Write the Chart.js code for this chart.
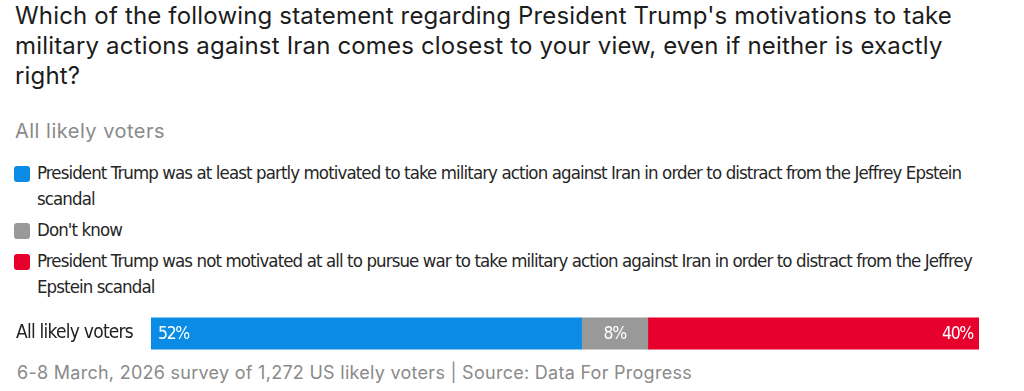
<!DOCTYPE html>
<html>
<head>
<meta charset="utf-8">
<script src="https://cdn.jsdelivr.net/npm/chart.js@4"></script>
<style>
  html, body { margin: 0; padding: 0; background: #fff; }
  body { width: 1024px; height: 391px; position: relative; overflow: hidden; }
  #title { position: absolute; left: 15px; top: 1px; width: 1000px; font-family: Inter, Roboto, sans-serif; font-size: 24px; line-height: 30px; color: #1c1c1c; font-weight: 400; white-space: nowrap; }
  #subtitle { position: absolute; left: 15px; top: 119px; font-family: Inter, Roboto, sans-serif; font-size: 20px; line-height: normal; color: #8a8a8a; white-space: nowrap; }
  #legend { position: absolute; left: 14px; top: 160px; width: 1000px; font-family: "Liberation Sans Narrow", "DejaVu Sans Condensed", sans-serif; font-size: 18.5px; color: #262626; }
  .item { position: relative; padding-left: 23px; line-height: 26px; margin-bottom: 5px; }
  .sw { position: absolute; left: 0; top: 6px; width: 16px; height: 16px; border-radius: 3px; }
  #wrap { position: absolute; left: 0; top: 306px; width: 1024px; height: 55px; }
  #footer { position: absolute; left: 17px; top: 362px; font-family: Inter, Roboto, sans-serif; font-size: 18px; line-height: normal; color: #8a8a8a; white-space: nowrap; }
</style>
</head>
<body>
<div id="title"></div>
<div id="subtitle"></div>
<div id="legend"></div>
<div id="wrap"><canvas id="c"></canvas></div>
<div id="footer"></div>
<script>
const titleLines = [
  "Which of the following statement regarding President Trump's motivations to take",
  "military actions against Iran comes closest to your view, even if neither is exactly",
  "right?"
];
const subtitleText = "All likely voters";
const footerText = "6-8 March, 2026 survey of 1,272 US likely voters | Source: Data For Progress";
const categories = ["All likely voters"];
const seriesNames = [
  "President Trump was at least partly motivated to take military action against Iran in order to distract from the Jeffrey Epstein scandal",
  "Don't know",
  "President Trump was not motivated at all to pursue war to take military action against Iran in order to distract from the Jeffrey Epstein scandal"
];
const seriesColors = ["#0A8BE5", "#999999", "#E8002C"];
const seriesValues = [[52], [8], [40]];

const mctx = document.createElement('canvas').getContext('2d');
function fontOf(el) {
  const cs = getComputedStyle(el);
  return cs.fontStyle + ' ' + cs.fontWeight + ' ' + cs.fontSize + ' ' + cs.fontFamily;
}
function fitSpacing(el, text, target) {
  mctx.font = fontOf(el);
  const w = mctx.measureText(text).width;
  el.style.letterSpacing = ((target - w) / text.length) + 'px';
}

const titleEl = document.getElementById('title');
titleLines.forEach((l, i) => {
  if (i) titleEl.appendChild(document.createElement('br'));
  titleEl.appendChild(document.createTextNode(l));
});
fitSpacing(titleEl, titleLines[0], 937);

const subEl = document.getElementById('subtitle');
subEl.textContent = subtitleText;
fitSpacing(subEl, subtitleText, 150);

const footEl = document.getElementById('footer');
footEl.textContent = footerText;
fitSpacing(footEl, footerText, 675);

const leg = document.getElementById('legend');
seriesNames.forEach((n, i) => {
  const d = document.createElement('div');
  d.className = 'item';
  const s = document.createElement('span');
  s.className = 'sw';
  s.style.background = seriesColors[i];
  d.appendChild(s);
  d.appendChild(document.createTextNode(n));
  leg.appendChild(d);
});
fitSpacing(leg, "President Trump was at least partly motivated to take military action against Iran in order to distract from the Jeffrey Epstein", 924);
leg.style.width = (23 + 945) + 'px';

const condensed = '"Liberation Sans Narrow", "DejaVu Sans Condensed", sans-serif';
mctx.font = '19px ' + condensed;
const catW = mctx.measureText(categories[0]).width;
const catSpacing = (117 - catW) / categories[0].length;
mctx.font = '17.5px ' + condensed;
const numW = mctx.measureText('52%').width;
const numSpacing = Math.min(0, (31 - numW) / 3);

const labelPlugin = {
  id: 'barLabels',
  beforeDraw(chart) {
    chart.ctx.letterSpacing = catSpacing + 'px';
  },
  afterDatasetsDraw(chart) {
    const ctx = chart.ctx;
    ctx.save();
    ctx.letterSpacing = numSpacing + 'px';
    ctx.font = '17.5px ' + condensed;
    ctx.fillStyle = '#fff';
    ctx.textBaseline = 'middle';
    const n = chart.data.datasets.length;
    chart.data.datasets.forEach((ds, di) => {
      const meta = chart.getDatasetMeta(di);
      meta.data.forEach((bar, i) => {
        const txt = ds.data[i] + '%';
        if (di === 0) {
          ctx.textAlign = 'left';
          ctx.fillText(txt, bar.base + 7, bar.y + 1);
        } else if (di === n - 1) {
          ctx.textAlign = 'right';
          ctx.fillText(txt, bar.x - 6, bar.y + 1);
        } else {
          ctx.textAlign = 'center';
          ctx.fillText(txt, (bar.x + bar.base) / 2, bar.y + 1);
        }
      });
    });
    ctx.restore();
  }
};

new Chart(document.getElementById('c'), {
  type: 'bar',
  data: {
    labels: categories,
    datasets: seriesNames.map((n, i) => ({
      label: n,
      data: seriesValues[i],
      backgroundColor: seriesColors[i],
      borderWidth: 0,
      barThickness: 35
    }))
  },
  options: {
    indexAxis: 'y',
    responsive: true,
    maintainAspectRatio: false,
    animation: false,
    layout: { padding: { left: 16, right: 45, top: 0, bottom: 0 } },
    plugins: { legend: { display: false }, tooltip: { enabled: false } },
    scales: {
      x: { stacked: true, min: 0, max: 100, display: false },
      y: {
        stacked: true,
        grid: { display: false },
        border: { display: false },
        ticks: { crossAlign: 'far', color: '#222', font: { family: condensed, size: 19 }, padding: 0 },
        afterFit(scale) { scale.width = 135; }
      }
    }
  },
  plugins: [labelPlugin]
});
</script>
</body>
</html>
